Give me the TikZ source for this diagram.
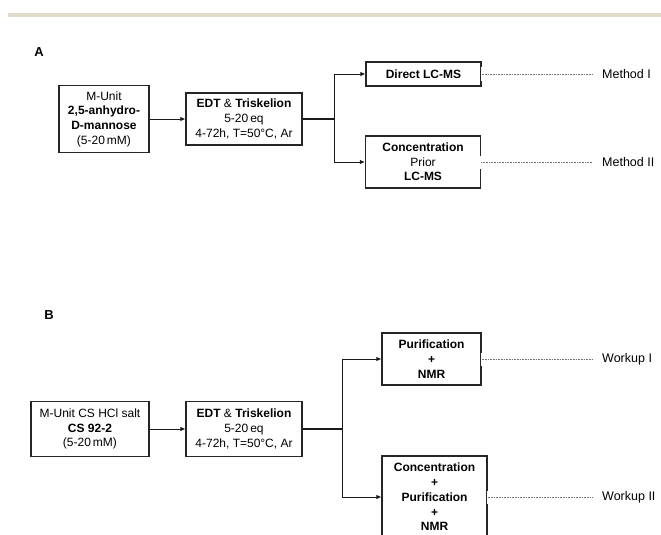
\documentclass[tikz,border=0pt]{standalone}
\usepackage{fontspec}
\setmainfont{Liberation Sans}
\usetikzlibrary{arrows.meta}
\begin{document}
\begin{tikzpicture}[x=1pt,y=-1pt,
  box/.style={draw=black!85, line width=1.1pt, inner sep=0pt, align=center,
    font=\fontsize{12}{14.7}\selectfont},
  conn/.style={draw=black!90, line width=0.9pt, -{Latex[length=5pt,width=4.5pt]}},
  trunk/.style={draw=black!90, line width=1.8pt},
  dots/.style={draw=black!55, line width=0.9pt, dash pattern=on 0.8pt off 0.8pt, shorten >=9pt},
  gapmask/.style={draw=white, line width=13pt},
  lbl/.style={anchor=west, inner sep=0pt, font=\fontsize{12.5}{14}\selectfont},
  panel/.style={inner sep=0pt, font=\bfseries\fontsize{13}{13}\selectfont}]

\useasboundingbox[fill=white] (0,0) rectangle (661,535);
\fill[color={rgb,255:red,224;green,218;blue,200}] (8,13) rectangle (661,17);

% ---------- Panel A ----------
\node[panel] (la) at (39,52) {A};
\node[box, minimum width=90, minimum height=67] (a1) at (104,119)
  {M-Unit\\\textbf{2,5-anhydro-}\\\textbf{D-mannose}\\(5-20\,mM)};
\node[box, minimum width=116, minimum height=52] (a2) at (244,119)
  {\textbf{EDT} \& \textbf{Triskelion}\\5-20\,eq\\4-72h, T=50°C, Ar};
\node[box, minimum width=115, minimum height=24] (a3) at (423.5,74)
  {\textbf{Direct LC-MS}};
\node[box, minimum width=115, minimum height=52] (a4) at (423,162)
  {\textbf{Concentration}\\Prior\\\textbf{LC-MS}};
\coordinate (ja) at (334,119);
\draw[conn] (a1.east) -- (a2.west);
\draw[trunk] (a2.east) -- (ja);
\draw[conn] (ja) |- (a3.west);
\draw[conn] (ja) |- (a4.west);
\node[lbl] (m1) at (602,74) {Method I};
\node[lbl] (m2) at (602,162) {Method II};
\draw[gapmask] ([xshift=-1pt]a3.east) -- ++(2.5,0);
\draw[gapmask] ([xshift=-1pt]a4.east) -- ++(2.5,0);
\draw[dots] (a3.east) -- (m1.west);
\draw[dots] (a4.east) -- (m2.west);

% ---------- Panel B ----------
\node[panel] (lb) at (49,315) {B};
\node[box, minimum width=118, minimum height=55] (b1) at (90,429)
  {M-Unit CS HCl salt\\\textbf{CS 92-2}\\(5-20\,mM)};
\node[box, minimum width=116, minimum height=55] (b2) at (244,429)
  {\textbf{EDT} \& \textbf{Triskelion}\\5-20\,eq\\4-72h, T=50°C, Ar};
\node[box, minimum width=99, minimum height=52] (b3) at (431.5,359)
  {\textbf{Purification}\\\textbf{+}\\\textbf{NMR}};
\node[box, minimum width=105, minimum height=82] (b4) at (434.5,497)
  {\textbf{Concentration}\\\textbf{+}\\\textbf{Purification}\\\textbf{+}\\\textbf{NMR}};
\coordinate (jb) at (342,429);
\draw[conn] (b1.east) -- (b2.west);
\draw[trunk] (b2.east) -- (jb);
\draw[conn] (jb) |- (b3.west);
\draw[conn] (jb) |- (b4.west);
\node[lbl] (w1) at (602,359) {Workup I};
\node[lbl] (w2) at (602,497) {Workup II};
\draw[gapmask] ([xshift=-1pt]b3.east) -- ++(2.5,0);
\draw[gapmask] ([xshift=-1pt]b4.east) -- ++(2.5,0);
\draw[dots] (b3.east) -- (w1.west);
\draw[dots] (b4.east) -- (w2.west);
\end{tikzpicture}
\end{document}
